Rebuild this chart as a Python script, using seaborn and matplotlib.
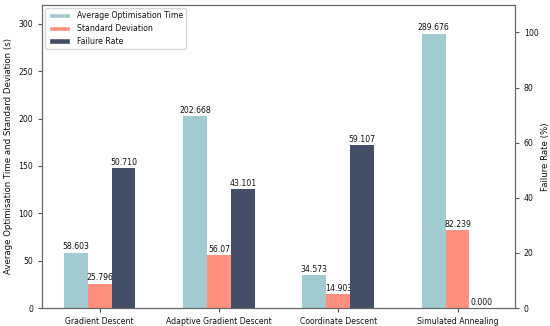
import numpy as np
import pandas as pd
import matplotlib
matplotlib.use('Agg')
import matplotlib.pyplot as plt
import seaborn as sns
from matplotlib.patches import Patch

methods = ['Gradient Descent', 'Adaptive Gradient Descent', 'Coordinate Descent', 'Simulated Annealing']
avg_time = [58.603, 202.668, 34.573, 289.676]
std_dev = [25.796, 56.07, 14.903, 82.239]
failure_rate = [50.710, 43.101, 59.107, 0.000]

avg_lbl = ['58.603', '202.668', '34.573', '289.676']
std_lbl = ['25.796', '56.07', '14.903', '82.239']
fail_lbl = ['50.710', '43.101', '59.107', '0.000']

series = ['Average Optimisation Time', 'Standard Deviation', 'Failure Rate']
colors = ['#A1CBD0', '#FF8F7E', '#444E66']

sns.set_style('ticks')
plt.rcParams['font.family'] = ['DejaVu Sans']
plt.rcParams['text.color'] = '#111111'
plt.rcParams['axes.labelcolor'] = '#111111'
plt.rcParams['xtick.color'] = '#555555'
plt.rcParams['ytick.color'] = '#555555'
plt.rcParams['xtick.labelcolor'] = '#111111'
plt.rcParams['ytick.labelcolor'] = '#111111'

fs = 5.6

left = pd.DataFrame({
    'Method': methods * 2,
    'Series': [series[0]] * 4 + [series[1]] * 4,
    'Value': avg_time + std_dev,
})
right = pd.DataFrame({
    'Method': methods,
    'Series': [series[2]] * 4,
    'Value': failure_rate,
})

fig, ax = plt.subplots(figsize=(5.5, 3.26), dpi=100)
ax2 = ax.twinx()

sns.barplot(data=left, x='Method', y='Value', hue='Series', hue_order=series,
            palette=colors, width=0.6, ax=ax, legend=False, errorbar=None,
            saturation=1, dodge=True, linewidth=0, edgecolor='none')
sns.barplot(data=right, x='Method', y='Value', hue='Series', hue_order=series,
            palette=colors, width=0.6, ax=ax2, legend=False, errorbar=None,
            saturation=1, dodge=True, linewidth=0, edgecolor='none')


def good(c):
    return len(c.patches) == 4 and all(p is not None for p in c.patches)


left_c = [c for c in ax.containers if good(c)]
right_c = [c for c in ax2.containers if good(c)]
for c, lbls in zip(left_c, [avg_lbl, std_lbl]):
    ax.bar_label(c, labels=lbls, fontsize=fs, padding=1)
for c in right_c[:1]:
    ax2.bar_label(c, labels=fail_lbl, fontsize=fs, padding=1)

ax.set_ylim(0, 320)
ax2.set_ylim(0, 110)
ax.set_xlim(-0.48, 3.48)
ax.set_xlabel('')
ax.set_ylabel('Average Optimisation Time and Standard Deviation (s)', fontsize=6.2, labelpad=4)
ax2.set_ylabel('Failure Rate (%)', fontsize=6.2, labelpad=2)
ax.tick_params(labelsize=fs, length=3)
ax2.tick_params(labelsize=fs, length=3)
for a in (ax, ax2):
    for s in a.spines.values():
        s.set_visible(True)
        s.set_color('#666666')

handles = [Patch(facecolor=col, label=s) for col, s in zip(colors, series)]
ax.legend(handles=handles, loc='upper left', fontsize=fs, frameon=True,
          borderaxespad=0.4, handlelength=2.8)

fig.subplots_adjust(left=0.077, right=0.936, top=0.985, bottom=0.055)
fig.savefig('out.png', dpi=100)
